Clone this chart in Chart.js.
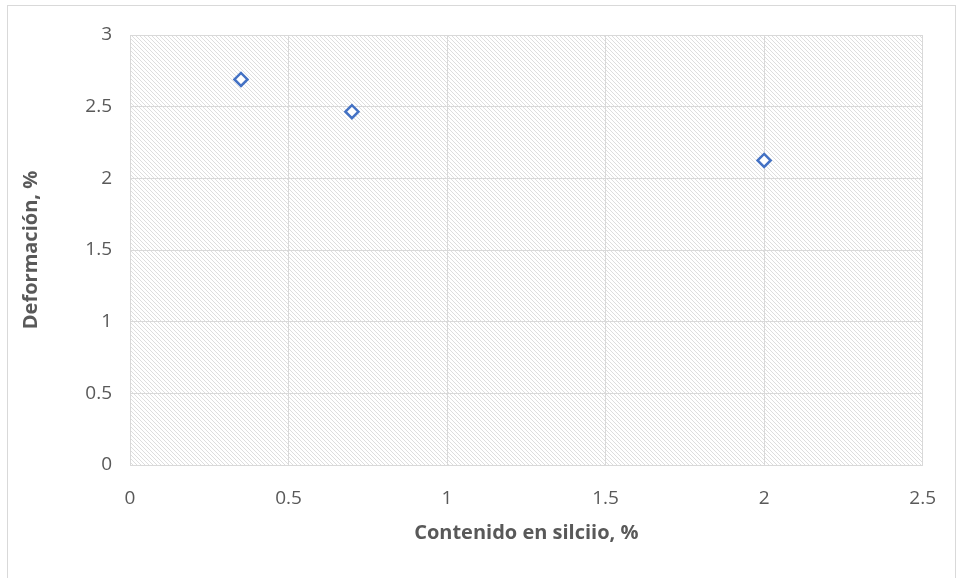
<!DOCTYPE html>
<html>
<head>
<meta charset="utf-8">
<script src="https://cdn.jsdelivr.net/npm/chart.js@4.4.1/dist/chart.umd.min.js"></script>
<style>
  html, body { margin: 0; padding: 0; background: #fff; }
  #wrap { width: 958px; height: 578px; }
</style>
</head>
<body>
<div id="wrap"><canvas id="chart"></canvas></div>
<script>
const silicon = [0.35, 0.7, 2.0];
const deformation = [2.69, 2.465, 2.125];
const xTicks = [0, 0.5, 1, 1.5, 2, 2.5];
const yTicks = [0, 0.5, 1, 1.5, 2, 2.5, 3];

const gridColor = '#d9d9d9';
const textColor = '#595959';
const fontFamily = '"Open Sans", "Liberation Sans", sans-serif';

// light downward diagonal hatch for the plot area
function makeHatch() {
  const tile = document.createElement('canvas');
  tile.width = 4;
  tile.height = 4;
  const c = tile.getContext('2d');
  c.fillStyle = '#ffffff';
  c.fillRect(0, 0, 4, 4);
  c.fillStyle = '#dedede';
  for (let i = 0; i < 4; i++) c.fillRect(i, i, 1, 1);
  return c.createPattern(tile, 'repeat');
}

const frame = {
  id: 'frame',
  beforeDraw(chart) {
    const ctx = chart.ctx;
    const a = chart.chartArea;
    ctx.save();
    ctx.strokeStyle = gridColor;
    ctx.lineWidth = 1;
    ctx.strokeRect(7.5, 5.5, 948, 600);
    ctx.fillStyle = makeHatch();
    ctx.fillRect(a.left, a.top, a.right - a.left, a.bottom - a.top);
    ctx.restore();
  }
};

const points = silicon.map((x, i) => ({ x: x, y: deformation[i] }));
const plain = (v) => String(v);

new Chart(document.getElementById('chart'), {
  type: 'scatter',
  data: {
    datasets: [{
      data: points,
      pointStyle: 'rectRot',
      pointRadius: 6.5,
      pointHoverRadius: 6.5,
      pointBorderWidth: 2.5,
      borderColor: '#4472c4',
      backgroundColor: '#ffffff',
    }]
  },
  options: {
    responsive: true,
    maintainAspectRatio: false,
    animation: false,
    layout: { padding: { left: 10, top: 35, right: 35, bottom: 23 } },
    plugins: { legend: { display: false }, tooltip: { enabled: false } },
    scales: {
      x: {
        type: 'linear',
        min: 0,
        max: 2.5,
        afterBuildTicks: (s) => { s.ticks = xTicks.map(v => ({ value: v })); },
        afterFit: (s) => { s.height = 90; },
        grid: { color: gridColor, drawTicks: false },
        border: { color: gridColor },
        ticks: { color: textColor, padding: 22, callback: plain, font: { family: fontFamily, size: 19 } },
        title: {
          display: true,
          text: 'Contenido en silciio, %',
          color: textColor,
          padding: { top: 0, bottom: 10 },
          font: { family: fontFamily, size: 20, weight: 'bold' }
        }
      },
      y: {
        type: 'linear',
        min: 0,
        max: 3,
        afterBuildTicks: (s) => { s.ticks = yTicks.map(v => ({ value: v })); },
        afterFit: (s) => { s.width = 120; },
        grid: { color: gridColor, drawTicks: false },
        border: { color: gridColor },
        ticks: { color: textColor, padding: 18, callback: plain, font: { family: fontFamily, size: 19 } },
        title: {
          display: true,
          text: 'Deformación, %',
          color: textColor,
          padding: { top: 9, bottom: 0 },
          font: { family: fontFamily, size: 20, weight: 'bold' }
        }
      }
    }
  },
  plugins: [frame]
});
</script>
</body>
</html>
